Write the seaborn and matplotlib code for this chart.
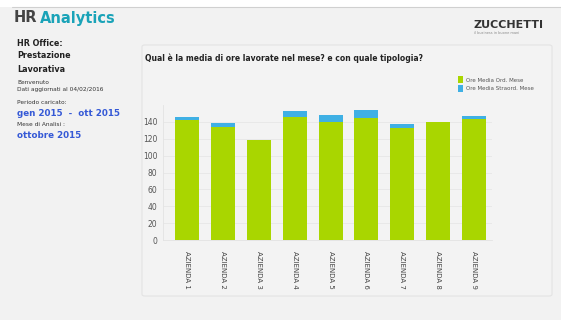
import matplotlib
matplotlib.use("Agg")
import matplotlib.pyplot as plt
import seaborn as sns
import pandas as pd
from matplotlib.patches import Rectangle, FancyBboxPatch

categories = ["AZIENDA 1", "AZIENDA 2", "AZIENDA 3", "AZIENDA 4", "AZIENDA 5",
              "AZIENDA 6", "AZIENDA 7", "AZIENDA 8", "AZIENDA 9"]
ore_ord = [142, 134, 118, 146, 140, 145, 132.5, 140, 143.5]
ore_straord = [3.5, 4.5, 0, 7, 8, 9.5, 4.5, 0, 4]
series_names = ["Ore Media Ord. Mese", "Ore Media Straord. Mese"]
y_ticks = [0, 20, 40, 60, 80, 100, 120, 140]

GREEN = "#a9d600"
BLUE = "#3fb0e4"
BG = "#f2f2f2"

sns.set_theme(style="white")
plt.rcParams['font.family'] = ['DejaVu Sans']

df = pd.DataFrame({"cat": categories,
                   "ord": ore_ord,
                   "tot": [a + b for a, b in zip(ore_ord, ore_straord)]})

fig = plt.figure(figsize=(5.61, 3.2), dpi=100)
fig.patch.set_facecolor(BG)

# top white strip and border line
fig.add_artist(Rectangle((0, 1 - 7/320), 1, 7/320, transform=fig.transFigure,
                         facecolor="white", edgecolor="none", zorder=0))
fig.add_artist(plt.Line2D([12/561, 1], [1 - 7/320, 1 - 7/320], transform=fig.transFigure,
                          color="#d0d0d0", lw=0.8))

# chart panel
fig.add_artist(FancyBboxPatch((142/561, 1 - 296/320), (552 - 142)/561, (296 - 45)/320,
                              boxstyle="round,pad=0,rounding_size=0.005",
                              transform=fig.transFigure, facecolor="#f3f3f3",
                              edgecolor="#e3e3e3", lw=0.8, zorder=0))

ax = fig.add_axes([163/561, 1 - 240/320, (492 - 163)/561, (240 - 105)/320])
ax.set_facecolor("none")

sns.barplot(data=df, x="cat", y="tot", color=BLUE, saturation=1, width=0.67,
            linewidth=0, edgecolor="none", ax=ax, zorder=2)
sns.barplot(data=df, x="cat", y="ord", color=GREEN, saturation=1, width=0.67,
            linewidth=0, edgecolor="none", ax=ax, zorder=3)

ax.set_ylim(0, 160)
ax.set_xlim(-0.67, 8.5)
ax.set_yticks(y_ticks)
ax.set_yticklabels([str(v) for v in y_ticks], fontsize=5.5, color="#555555")
ax.set_xticks(range(len(categories)))
ax.set_xticklabels(categories, rotation=-90, fontsize=5, color="#444444", va="top")
ax.tick_params(axis="both", length=0, pad=4)
ax.tick_params(axis="x", pad=8)
ax.set_xlabel("")
ax.set_ylabel("")
ax.yaxis.grid(True, color="#e6e6e6", lw=0.6)
ax.set_axisbelow(True)
for s in ["top", "right"]:
    ax.spines[s].set_visible(False)
ax.spines["left"].set_color("#e3e3e3")
ax.spines["bottom"].set_color("#e3e3e3")
ax.spines["left"].set_linewidth(0.6)
ax.spines["bottom"].set_linewidth(0.6)

# legend
for i, (name, col) in enumerate(zip(series_names, [GREEN, BLUE])):
    y = 1 - (80 + i * 9) / 320
    fig.add_artist(Rectangle((458/561, y - 3/320), 5/561, 7/320, transform=fig.transFigure,
                             facecolor=col, edgecolor="none"))
    fig.text(466/561, y, name, fontsize=4, color="#555555", va="center")

# chart title
fig.text(145/561, 1 - 58/320, "Qual è la media di ore lavorate nel mese? e con quale tipologia?",
         fontsize=5.5, fontweight="bold", color="#222222", va="center")

# header
fig.text(14/561, 1 - 18/320, "HR", fontsize=10.5, fontweight="bold", color="#444444", va="center")
fig.text(40/561, 1 - 18/320, "Analytics", fontsize=10.5, fontweight="bold", color="#1aa3b8", va="center")

# logo
fig.text(474/561, 1 - 25/320, "ZUCCHETTI", fontsize=8, fontweight="bold", color="#333333",
         va="center", family="DejaVu Sans Condensed")
fig.text(474/561, 1 - 33/320, "il business in buone mani", fontsize=2.5, color="#888888", va="center")

# left panel
left = [
    ("HR Office:", 43, 5.8, "bold", "#222222"),
    ("Prestazione", 56, 5.8, "bold", "#222222"),
    ("Lavorativa", 69, 5.8, "bold", "#222222"),
    ("Benvenuto", 82, 4.2, "normal", "#333333"),
    ("Dati aggiornati al 04/02/2016", 90, 4.2, "normal", "#333333"),
    ("Periodo caricato:", 102, 4.2, "normal", "#333333"),
    ("gen 2015  -  ott 2015", 114, 6.3, "bold", "#3559d6"),
    ("Mese di Analisi :", 124, 4.2, "normal", "#333333"),
    ("ottobre 2015", 135, 6.3, "bold", "#3559d6"),
]
for txt, y, fs, fw, col in left:
    fig.text(17/561, 1 - y/320, txt, fontsize=fs, fontweight=fw, color=col, va="center")

fig.savefig("out.png", dpi=100, facecolor=BG)
